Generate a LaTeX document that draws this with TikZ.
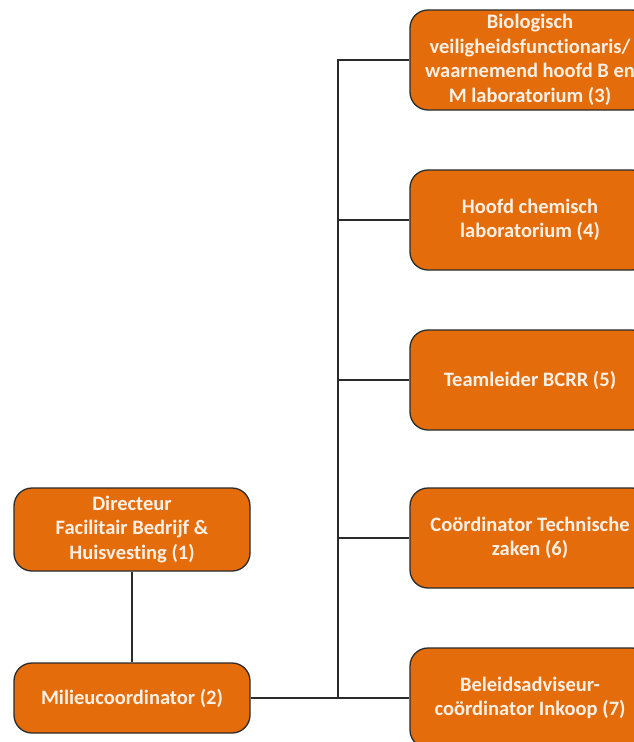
\documentclass[tikz,border=0pt]{standalone}
\usepackage{fontspec}
\setmainfont[Ligatures={NoCommon}]{Carlito}
\definecolor{boxorange}{HTML}{E46C0A}
\definecolor{edgegray}{HTML}{2B2B2B}
\definecolor{boxtext}{HTML}{FDF0E6}
\begin{document}
\begin{tikzpicture}[x=1pt,y=-1pt,
  box/.style={draw=edgegray, line width=1.3pt, fill=boxorange, rounded corners=18pt,
    minimum width=240pt, minimum height=100pt, text=boxtext, align=center, inner sep=0pt,
    font=\bfseries\fontsize{20.5}{24.5}\selectfont},
  link/.style={draw=edgegray, line width=1.3pt}]
\useasboundingbox (0,0) rectangle (634,742);
\clip (0,0) rectangle (634,742);
\fill[white] (0,0) rectangle (634,742);
\node[box, minimum width=236pt, minimum height=83pt] (b1) at (132,529.5) {Directeur\\Facilitair Bedrijf \&\\Huisvesting (1)};
\node[box, minimum width=236pt, minimum height=70pt] (b2) at (132,698) {Milieucoordinator (2)};
\node[box] (b3) at (530,60) {Biologisch\\veiligheidsfunctionaris/\\waarnemend hoofd B en\\M laboratorium (3)};
\node[box] (b4) at (530,220) {Hoofd chemisch\\laboratorium (4)};
\node[box] (b5) at (530,380) {Teamleider BCRR (5)};
\node[box] (b6) at (530,538) {Coördinator Technische\\zaken (6)};
\node[box] (b7) at (530,698) {Beleidsadviseur-\\coördinator Inkoop (7)};
\coordinate (tx) at (338,0);
\draw[link] (b1) -- (b2);
\draw[link] (b2.east) -- (b7.west);
\draw[link] (b3.west) -- (b3.west -| tx) -- (b7.west -| tx);
\draw[link] (b4.west) -- (b4.west -| tx);
\draw[link] (b5.west) -- (b5.west -| tx);
\draw[link] (b6.west) -- (b6.west -| tx);
\end{tikzpicture}
\end{document}
